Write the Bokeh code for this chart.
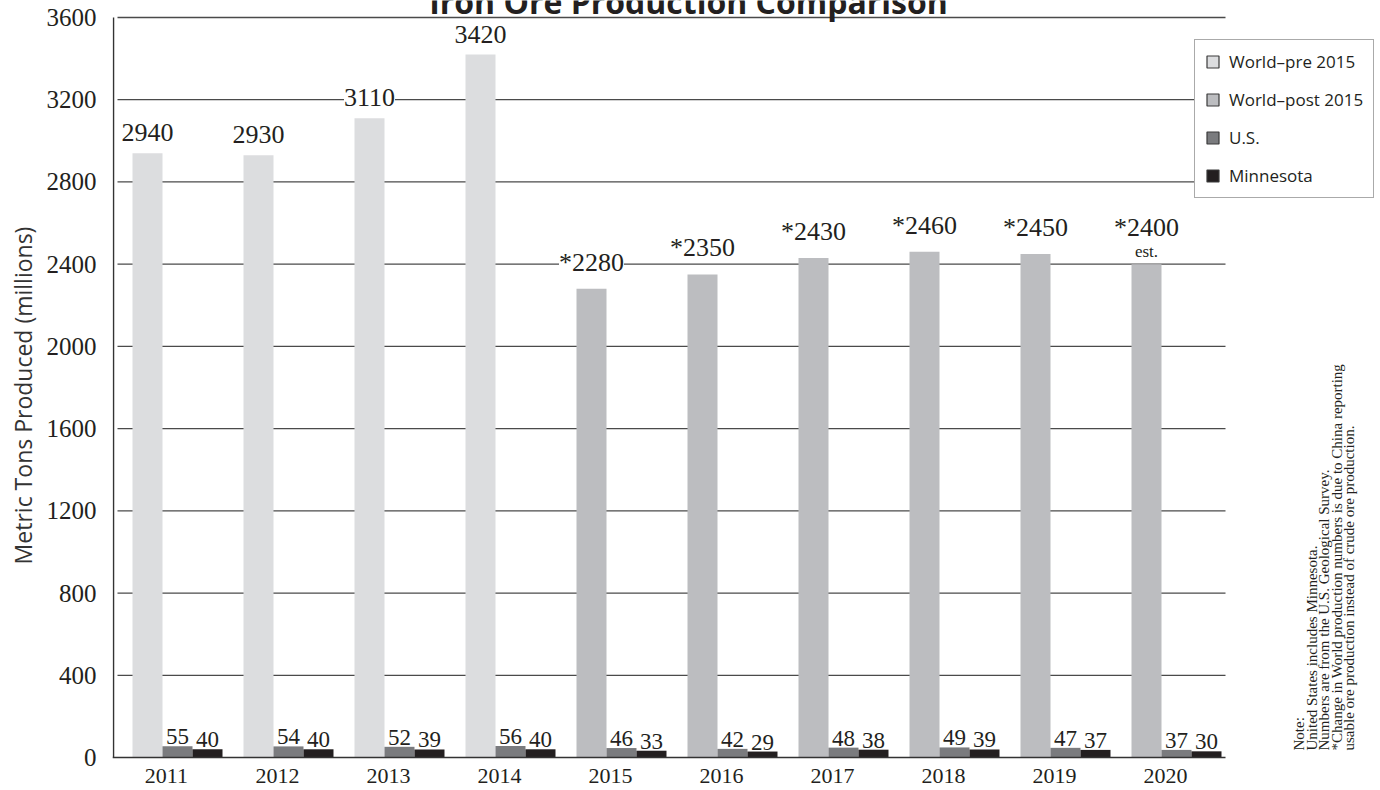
import math
from bokeh.plotting import figure
from bokeh.models import Range1d, FixedTicker, Legend, LegendItem, Label
from bokeh.core.properties import value
from bokeh.embed import file_html
from bokeh.resources import INLINE

# ---- data ----
years = [2011, 2012, 2013, 2014, 2015, 2016, 2017, 2018, 2019, 2020]
world = [2940, 2930, 3110, 3420, 2280, 2350, 2430, 2460, 2450, 2400]
us = [55, 54, 52, 56, 46, 42, 48, 49, 47, 37]
minnesota = [40, 40, 39, 40, 33, 29, 38, 39, 37, 30]
y_ticks = [0, 400, 800, 1200, 1600, 2000, 2400, 2800, 3200, 3600]
change_year = 2015
estimate_year = 2020
series_names = ["World\u2013pre 2015", "World\u2013post 2015", "U.S.", "Minnesota"]
title_text = "Iron Ore Production Comparison"
y_title = "Metric Tons Produced (millions)"
notes = [
    "Note:",
    "United States includes Minnesota.",
    "Numbers are from the U.S. Geological Survey.",
    "*Change in World production numbers is due to China reporting",
    "   usable ore production instead of crude ore production.",
]

# ---- style ----
c_pre = "#dcdddf"
c_post = "#bcbdc0"
c_us = "#7a7b7e"
c_mn = "#231f20"
ink = "#231f20"
grid_col = "#4a4a4a"
serif = "Liberation Serif"
sans = "Open Sans"

# ---- layout constants (pixels) ----
W, H = 1380, 790
left_panel = 112
frame_w = W - left_panel
group_px = 111.0
first_group_px = 65.0          # centre of first group, from frame left
plot_right_px = 1113.0         # right end of grid / baseline, from frame left
zero_px_from_bottom = 33.0     # y=0 line, from frame bottom
top_px_from_top = 17.0         # top grid line, from frame top
title_center_px = 576.0        # title centre, from frame left
title_baseline_px = 1.0        # title baseline, from frame top (title is cut off)
ymax = y_ticks[-1]
ppu = (H - zero_px_from_bottom - top_px_from_top) / ymax

x_start = -first_group_px / group_px
x_end = x_start + frame_w / group_px
x_right = x_start + plot_right_px / group_px
y_start = -zero_px_from_bottom / ppu
y_end = ymax + top_px_from_top / ppu

idx = list(range(len(years)))
bw = 30.0 / group_px
world_x = [i - bw for i in idx]
mn_x = [i + bw for i in idx]
world_colors = [c_pre if y < change_year else c_post for y in years]
world_labels = [("*" if y >= change_year else "") + str(v) for y, v in zip(years, world)]
world_offsets = [-22 if y == estimate_year else -12 for y in years]

p = figure(width=W, height=H,
           x_range=Range1d(x_start, x_end), y_range=Range1d(y_start, y_end),
           output_backend="svg", toolbar_location=None,
           min_border_left=left_panel, min_border_right=0,
           min_border_top=0, min_border_bottom=0)
p.outline_line_color = None
p.background_fill_color = "white"
p.border_fill_color = "white"
p.xaxis.visible = False
p.xgrid.visible = False
p.ygrid.visible = False

# grid lines and y-axis line
grid_y = y_ticks[1:]
p.segment(x0=[x_start + 5 / group_px] * len(grid_y), x1=[x_right] * len(grid_y),
          y0=grid_y, y1=grid_y, line_color=grid_col, line_width=1.3)
p.segment(x0=[x_start + 1 / group_px], x1=[x_start + 1 / group_px],
          y0=[0], y1=[ymax], line_color="#333333", line_width=1.5)

# bars
p.vbar(x=world_x, top=world, width=bw, fill_color=world_colors, line_color=None)
p.vbar(x=idx, top=us, width=bw, fill_color=c_us, line_color=None)
p.vbar(x=mn_x, top=minnesota, width=bw, fill_color=c_mn, line_color=None)

# baseline
p.segment(x0=[x_start], x1=[x_right], y0=[0], y1=[0], line_color="#333333", line_width=1.6)

# value labels
p.text(x=world_x, y=world, text=world_labels, text_font=value(serif),
       text_font_size="26px", text_color=ink, text_align="center",
       text_baseline="bottom", y_offset=world_offsets,
       background_fill_color="white")
est_i = years.index(estimate_year)
p.text(x=[world_x[est_i]], y=[world[est_i]], text=["est."], text_font=value(serif),
       text_font_size="17px", text_color=ink, text_align="center",
       text_baseline="bottom", y_offset=-3)
p.text(x=idx, y=us, text=[str(v) for v in us], text_font=value(serif),
       text_font_size="23px", text_color=ink, text_align="center",
       text_baseline="bottom", y_offset=-2)
p.text(x=mn_x, y=minnesota, text=[str(v) for v in minnesota], text_font=value(serif),
       text_font_size="23px", text_color=ink, text_align="center",
       text_baseline="bottom", y_offset=-2)

# year labels (category axis)
tick_pos = [i - 0.1 for i in idx]
p.text(x=tick_pos, y=[0] * len(years), text=[str(y) for y in years],
       text_font=value(serif), text_font_size="22px", text_color=ink,
       text_align="center", text_baseline="top", y_offset=11)

# title (cut off at the top edge, as in the original)
p.text(x=[x_start + title_center_px / group_px], y=[y_end - title_baseline_px / ppu],
       text=[title_text], text_font=value(sans), text_font_size="32px",
       text_font_style="bold", text_color=ink, text_align="center",
       text_baseline="alphabetic")

# y axis
p.yaxis.ticker = FixedTicker(ticks=y_ticks)
p.yaxis.major_tick_line_color = None
p.yaxis.minor_tick_line_color = None
p.yaxis.axis_line_color = None
p.yaxis.major_label_text_font = serif
p.yaxis.major_label_text_font_size = "25px"
p.yaxis.major_label_text_color = ink
p.yaxis.major_label_standoff = 10
p.yaxis.axis_label = y_title
p.yaxis.axis_label_text_font = sans
p.yaxis.axis_label_text_font_size = "23px"
p.yaxis.axis_label_text_font_style = "normal"
p.yaxis.axis_label_text_color = "#333333"
p.yaxis.axis_label_standoff = 5

# legend (proxy renderers with outlined swatches; NaN data draws nothing)
nan = float("nan")
swatch_colors = [c_pre, c_post, c_us, c_mn]
items = []
for name, col in zip(series_names, swatch_colors):
    r = p.quad(left=[nan], right=[nan], top=[nan], bottom=[nan],
               fill_color=col, line_color="#3a3a3a", line_width=1.2)
    items.append(LegendItem(label=name, renderers=[r]))
legend = Legend(items=items, location=(1082, 592), orientation="vertical",
                glyph_width=15, glyph_height=15, label_height=22,
                label_standoff=9, spacing=15, padding=10, margin=0,
                label_text_font=sans, label_text_font_size="17px",
                label_text_color=ink, border_line_color="#555555",
                border_line_width=1, background_fill_color="white",
                background_fill_alpha=1.0)
p.add_layout(legend)

# rotated notes
note_x = [1186, 1199, 1211, 1224, 1236]
for nx, line in zip(note_x, notes):
    p.add_layout(Label(x=nx, y=40, x_units="screen", y_units="screen",
                       text=line, angle=math.pi / 2, text_align="left",
                       text_baseline="middle", text_font=serif,
                       text_font_size="15px", text_color=ink))

open("out.html", "w").write(file_html(p, INLINE))
